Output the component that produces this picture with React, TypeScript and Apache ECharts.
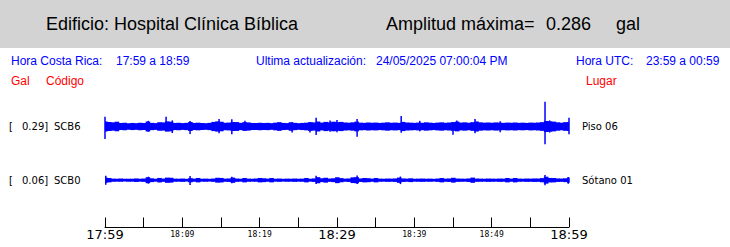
import React, { useEffect, useRef } from "react";
import * as echarts from "echarts";

// ---- data ----
const STEP = 0.5; // minutes between envelope samples (17:59 = minute 0)
const START_MIN = 0;
const END_MIN = 60;

// Envelope half-amplitude (gal) of each trace, one value per half minute
const SCB6_ENV = [
  0.058, 0.052, 0.048, 0.055, 0.039, 0.042, 0.037, 0.041, 0.038, 0.043,
  0.04, 0.057, 0.042, 0.039, 0.049, 0.047, 0.059, 0.055, 0.041, 0.043,
  0.039, 0.042, 0.052, 0.041, 0.044, 0.04, 0.038, 0.042, 0.053, 0.059,
  0.055, 0.043, 0.045, 0.052, 0.051, 0.042, 0.05, 0.047, 0.041, 0.039,
  0.043, 0.04, 0.042, 0.038, 0.044, 0.05, 0.041, 0.039, 0.049, 0.042,
  0.038, 0.041, 0.044, 0.05, 0.047, 0.057, 0.045, 0.053, 0.048, 0.055,
  0.05, 0.053, 0.046, 0.044, 0.048, 0.056, 0.044, 0.042, 0.046, 0.043,
  0.045, 0.041, 0.044, 0.048, 0.043, 0.045, 0.042, 0.053, 0.046, 0.044,
  0.042, 0.045, 0.043, 0.048, 0.044, 0.041, 0.045, 0.048, 0.043, 0.046,
  0.05, 0.056, 0.045, 0.048, 0.043, 0.05, 0.058, 0.048, 0.044, 0.046,
  0.043, 0.047, 0.044, 0.042, 0.045, 0.043, 0.046, 0.042, 0.044, 0.041,
  0.045, 0.043, 0.046, 0.05, 0.063, 0.06, 0.056, 0.048, 0.044, 0.05,
  0.053,
];
const SCB0_ENV = [
  0.03, 0.025, 0.018, 0.017, 0.019, 0.016, 0.018, 0.017, 0.02, 0.017,
  0.019, 0.034, 0.022, 0.017, 0.026, 0.019, 0.03, 0.028, 0.018, 0.017,
  0.019, 0.016, 0.024, 0.018, 0.025, 0.017, 0.018, 0.016, 0.019, 0.028,
  0.026, 0.018, 0.02, 0.03, 0.019, 0.017, 0.025, 0.018, 0.017, 0.019,
  0.025, 0.022, 0.018, 0.025, 0.017, 0.019, 0.016, 0.018, 0.017, 0.019,
  0.017, 0.018, 0.025, 0.017, 0.02, 0.035, 0.022, 0.028, 0.019, 0.022,
  0.034, 0.024, 0.018, 0.02, 0.033, 0.035, 0.02, 0.025, 0.023, 0.018,
  0.025, 0.018, 0.017, 0.019, 0.018, 0.02, 0.03, 0.02, 0.018, 0.022,
  0.017, 0.018, 0.019, 0.017, 0.018, 0.016, 0.019, 0.025, 0.018, 0.02,
  0.028, 0.019, 0.018, 0.017, 0.02, 0.03, 0.019, 0.018, 0.017, 0.019,
  0.018, 0.017, 0.019, 0.018, 0.025, 0.018, 0.025, 0.018, 0.017, 0.019,
  0.018, 0.02, 0.019, 0.024, 0.04, 0.026, 0.025, 0.02, 0.019, 0.022,
  0.03,
];

// Isolated peaks: [minute, max (gal), min (gal)]
const SCB6_PEAKS = [
  [0.0, 0.113, -0.144], [5.6, 0.065, -0.06], [7.9, 0.113, -0.05],
  [8.7, 0.07, -0.075], [11.0, 0.063, -0.086], [14.75, 0.086, -0.078],
  [16.4, 0.083, -0.09], [18.1, 0.065, -0.05], [24.2, 0.05, -0.068],
  [26.5, 0.05, -0.07], [27.3, 0.101, -0.098], [29.1, 0.07, -0.06],
  [30.0, 0.075, -0.065], [32.6, 0.086, -0.117], [38.3, 0.121, -0.071],
  [40.7, 0.065, -0.055], [45.0, 0.052, -0.094], [45.5, 0.07, -0.05],
  [47.85, 0.086, -0.078], [51.1, 0.06, -0.065], [56.9, 0.286, -0.205],
  [57.5, 0.07, -0.07], [60.0, 0.101, -0.09],
];
const SCB0_PEAKS = [
  [0.1, 0.05, -0.052], [5.6, 0.04, -0.04], [11.0, 0.048, -0.055],
  [16.4, 0.04, -0.035], [27.3, 0.052, -0.045], [32.6, 0.055, -0.045],
  [38.2, 0.042, -0.045], [56.9, 0.06, -0.058], [59.9, 0.035, -0.042],
  [60.0, 0.03, -0.03],
];

const TICK_LABELS: Record<number, [string, string]> = {
  0: ["17:59", "big"],
  10: ["18:09", "small"],
  20: ["18:19", "small"],
  30: ["18:29", "big"],
  40: ["18:39", "small"],
  50: ["18:49", "small"],
  60: ["18:59", "big"],
};

const STATIONS = [
  { code: "SCB6", max: "0.29", place: "Piso 06" },
  { code: "SCB0", max: "0.06", place: "Sótano 01" },
];

const TITLE = "Edificio: Hospital Clínica Bíblica";
const AMP_LABEL = "Amplitud máxima=";
const AMP_VALUE = "0.286";
const AMP_UNIT = "gal";

// ---- styles ----
const BLUE = "#0000ff";
const RED = "#ff0000";
const SANS = "'Liberation Sans', Arial, sans-serif";
const DEJAVU = "'DejaVu Sans', sans-serif";
const MONO = "'DejaVu Sans Mono', monospace";
const Y_HALF = 0.345;

const envData = (env: number[]) => env.map((a, i) => [START_MIN + i * STEP, a]);

const envRender = (params: any, api: any) => {
  const t = api.value(0);
  const a = api.value(1);
  const p1 = api.coord([Math.max(START_MIN, t - STEP / 2), a]);
  const p2 = api.coord([Math.min(END_MIN, t + STEP / 2), -a]);
  const overlap = t + STEP / 2 < END_MIN ? 0.7 : 0;
  return {
    type: "rect",
    shape: { x: p1[0], y: p1[1], width: p2[0] - p1[0] + overlap, height: p2[1] - p1[1] },
    style: { fill: BLUE },
  };
};

const peakRender = (params: any, api: any) => {
  const top = api.coord([api.value(0), api.value(1)]);
  const bot = api.coord([api.value(0), api.value(2)]);
  return {
    type: "rect",
    shape: { x: top[0] - 0.75, y: top[1], width: 1.5, height: bot[1] - top[1] },
    style: { fill: BLUE },
  };
};

const txt = (x: number, y: number, text: string, font: string, size: number, fill: string, align = "left") => ({
  type: "text",
  x,
  y,
  style: { text, fill, font: `${size}px ${font}`, align, verticalAlign: "middle" },
});

export default function App() {
  const ref = useRef<HTMLDivElement>(null);
  useEffect(() => {
    if (!ref.current) return;
    const chart = echarts.init(ref.current, null, { renderer: "svg" });
    const traceCenters = [126.5, 180.2];
    const gridH = 60;
    const grids = traceCenters.map((c) => ({ left: 105, right: 161, top: c - gridH / 2, height: gridH }));
    grids.push({ left: 105, right: 161, top: 190, height: 37 });

    const hiddenX = (gi: number) => ({ type: "value", gridIndex: gi, min: START_MIN, max: END_MIN, show: false });
    const hiddenY = (gi: number) => ({ type: "value", gridIndex: gi, min: -Y_HALF, max: Y_HALF, show: false });

    const graphics: any[] = [
      { type: "rect", shape: { x: 0, y: 0, width: 730, height: 48 }, style: { fill: "#d3d3d3" } },
      txt(46, 23.5, TITLE, SANS, 18, "#000"),
      txt(386, 23.5, AMP_LABEL, SANS, 18, "#000"),
      txt(546, 23.5, AMP_VALUE, SANS, 18, "#000"),
      txt(616, 23.5, AMP_UNIT, SANS, 18, "#000"),
      txt(11, 60.5, "Hora Costa Rica:", SANS, 12, BLUE),
      txt(116, 60.5, "17:59 a 18:59", SANS, 12, BLUE),
      txt(256, 60.5, "Ultima actualización:", SANS, 12, BLUE),
      txt(376, 60.5, "24/05/2025 07:00:04 PM", SANS, 12, BLUE),
      txt(576, 60.5, "Hora UTC:", SANS, 12, BLUE),
      txt(646, 60.5, "23:59 a 00:59", SANS, 12, BLUE),
      txt(11, 81, "Gal", SANS, 12, RED),
      txt(46, 81, "Código", SANS, 12, RED),
      txt(586, 81, "Lugar", SANS, 12, RED),
    ];
    STATIONS.forEach((s, i) => {
      const y = traceCenters[i];
      graphics.push(txt(9, y, "[", DEJAVU, 10, "#000"));
      graphics.push(txt(22, y, `${s.max}]`, DEJAVU, 10, "#000"));
      graphics.push(txt(54, y, s.code, DEJAVU, 10, "#000"));
      graphics.push(txt(582, y, s.place, DEJAVU, 10, "#000"));
    });

    chart.setOption({
      animation: false,
      backgroundColor: "#fff",
      grid: grids,
      xAxis: [
        hiddenX(0),
        hiddenX(1),
        {
          type: "value",
          gridIndex: 2,
          min: START_MIN,
          max: END_MIN,
          interval: 5,
          axisLine: { show: true, lineStyle: { color: "#000", width: 1 } },
          axisTick: { show: true, inside: true, length: 9.5, lineStyle: { color: "#000", width: 1 } },
          splitLine: { show: false },
          axisLabel: {
            show: true,
            margin: 1.5,
            showMinLabel: true,
            showMaxLabel: true,
            hideOverlap: false,
            fontWeight: "normal",
            formatter: (v: number) => {
              const l = TICK_LABELS[Math.round(v)];
              return l ? `{${l[1]}|${l[0]}}` : "";
            },
            rich: {
              big: { fontSize: 13, fontFamily: DEJAVU, fontWeight: "normal", color: "#000", lineHeight: 12 },
              small: { fontSize: 8, fontFamily: MONO, fontWeight: "normal", color: "#000", lineHeight: 12 },
            },
          },
        },
      ],
      yAxis: [hiddenY(0), hiddenY(1), { type: "value", gridIndex: 2, min: 0, max: 1, show: false }],
      series: [
        { type: "custom", xAxisIndex: 0, yAxisIndex: 0, clip: false, data: envData(SCB6_ENV), renderItem: envRender, silent: true },
        { type: "custom", xAxisIndex: 0, yAxisIndex: 0, clip: false, data: SCB6_PEAKS, renderItem: peakRender, silent: true },
        { type: "custom", xAxisIndex: 1, yAxisIndex: 1, clip: false, data: envData(SCB0_ENV), renderItem: envRender, silent: true },
        { type: "custom", xAxisIndex: 1, yAxisIndex: 1, clip: false, data: SCB0_PEAKS, renderItem: peakRender, silent: true },
      ],
      graphic: graphics,
    });
    return () => chart.dispose();
  }, []);
  return <div ref={ref} style={{ position: "fixed", left: 0, top: 0, width: 730, height: 247 }} />;
}
